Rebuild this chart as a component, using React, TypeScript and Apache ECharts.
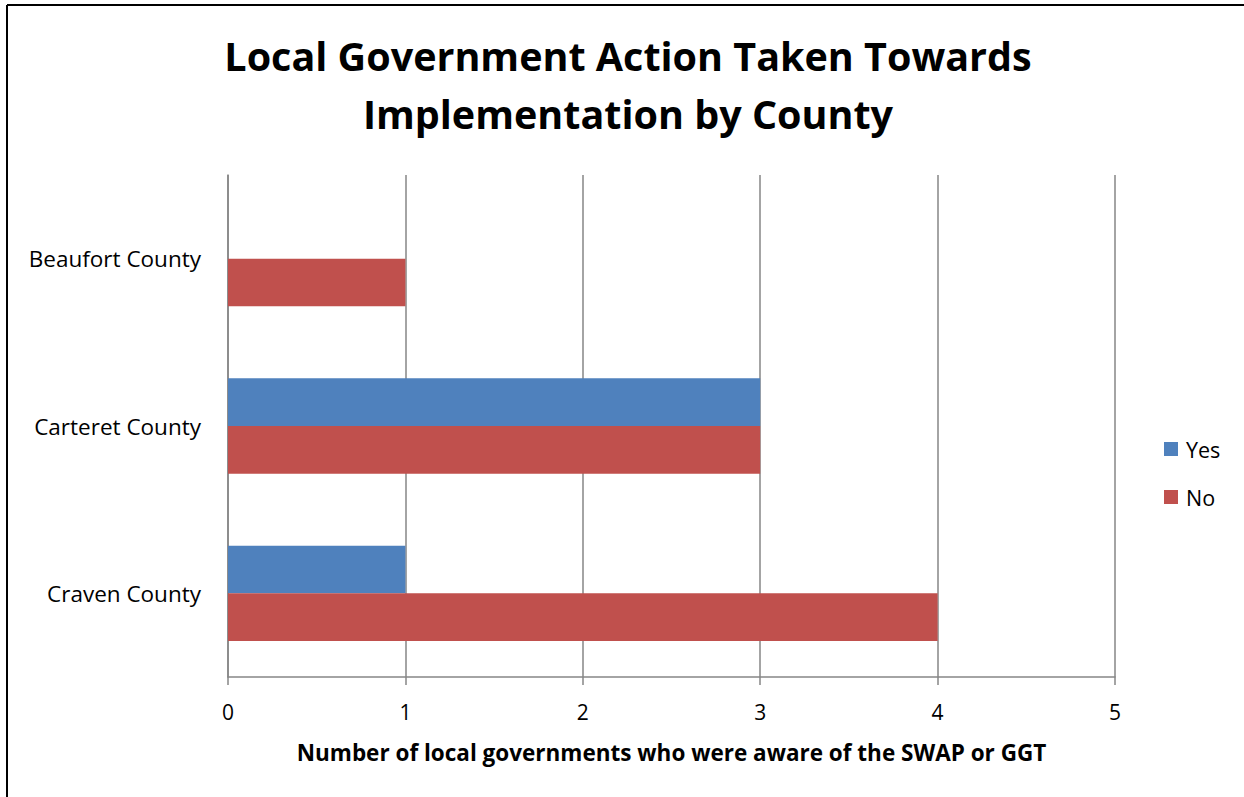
import React, { useEffect, useRef } from "react";
import * as echarts from "echarts";

const categories = ["Craven County", "Carteret County", "Beaufort County"];
const yesValues = [1, 3, 0];
const noValues = [4, 3, 1];
const xTicks = [0, 1, 2, 3, 4, 5];
const titleText = "Local Government Action Taken Towards\nImplementation by County";
const xAxisName = "Number of local governments who were aware of the SWAP or GGT";

const FONT = "'Open Sans', Lato, sans-serif";
const GRID_COLOR = "#868686";

export default function App() {
  const ref = useRef<HTMLDivElement>(null);
  useEffect(() => {
    if (!ref.current) return;
    const chart = echarts.init(ref.current, undefined, { renderer: "svg" });
    chart.setOption({
      animation: false,
      backgroundColor: "#ffffff",
      textStyle: { fontFamily: FONT, color: "#000" },
      title: {
        text: titleText,
        left: 623,
        top: 22,
        textAlign: "center",
        textStyle: {
          fontFamily: FONT,
          fontSize: 39.5,
          fontWeight: "bold",
          color: "#000",
          lineHeight: 58,
        },
      },
      legend: {
        orient: "vertical",
        left: 1164,
        top: 438,
        padding: 0,
        itemWidth: 14,
        itemHeight: 14,
        itemGap: 26,
        icon: "rect",
        textStyle: { fontFamily: FONT, fontSize: 21.5, color: "#000", lineHeight: 22, padding: [0, 0, 0, 3] },
        data: ["Yes", "No"],
      },
      grid: { left: 228, right: 129, top: 175, bottom: 120, containLabel: false },
      xAxis: {
        type: "value",
        min: xTicks[0],
        max: xTicks[xTicks.length - 1],
        interval: 1,
        name: xAxisName,
        nameLocation: "middle",
        nameGap: 64,
        nameTextStyle: { fontFamily: FONT, fontSize: 22.5, fontWeight: "bold", color: "#000" },
        axisLine: { show: true, lineStyle: { color: GRID_COLOR, width: 1.5 } },
        axisTick: { show: true, length: 8, lineStyle: { color: GRID_COLOR, width: 1.5 } },
        axisLabel: { fontFamily: FONT, fontSize: 21, color: "#000", margin: 24 },
        splitLine: { show: true, lineStyle: { color: GRID_COLOR, width: 1.5 } },
      },
      yAxis: {
        type: "category",
        data: categories,
        axisLine: { show: true, lineStyle: { color: GRID_COLOR, width: 1.5 } },
        axisTick: { show: false },
        axisLabel: { fontFamily: FONT, fontSize: 22.5, color: "#000", margin: 27 },
        splitLine: { show: false },
      },
      series: [
        {
          name: "Yes",
          type: "bar",
          data: yesValues,
          itemStyle: { color: "#4F81BD" },
          barGap: "0%",
          barCategoryGap: "43%",
        },
        {
          name: "No",
          type: "bar",
          data: noValues,
          itemStyle: { color: "#C0504D" },
          barGap: "0%",
          barCategoryGap: "43%",
        },
      ],
      graphic: [
        {
          type: "line",
          shape: { x1: 7, y1: 5, x2: 1244, y2: 5 },
          style: { stroke: "#000", lineWidth: 2 },
        },
        {
          type: "line",
          shape: { x1: 7, y1: 5, x2: 7, y2: 797 },
          style: { stroke: "#000", lineWidth: 2 },
        },
      ],
    });
    return () => chart.dispose();
  }, []);
  return (
    <div
      ref={ref}
      style={{ position: "absolute", left: 0, top: 0, width: 1244, height: 797 }}
    />
  );
}
